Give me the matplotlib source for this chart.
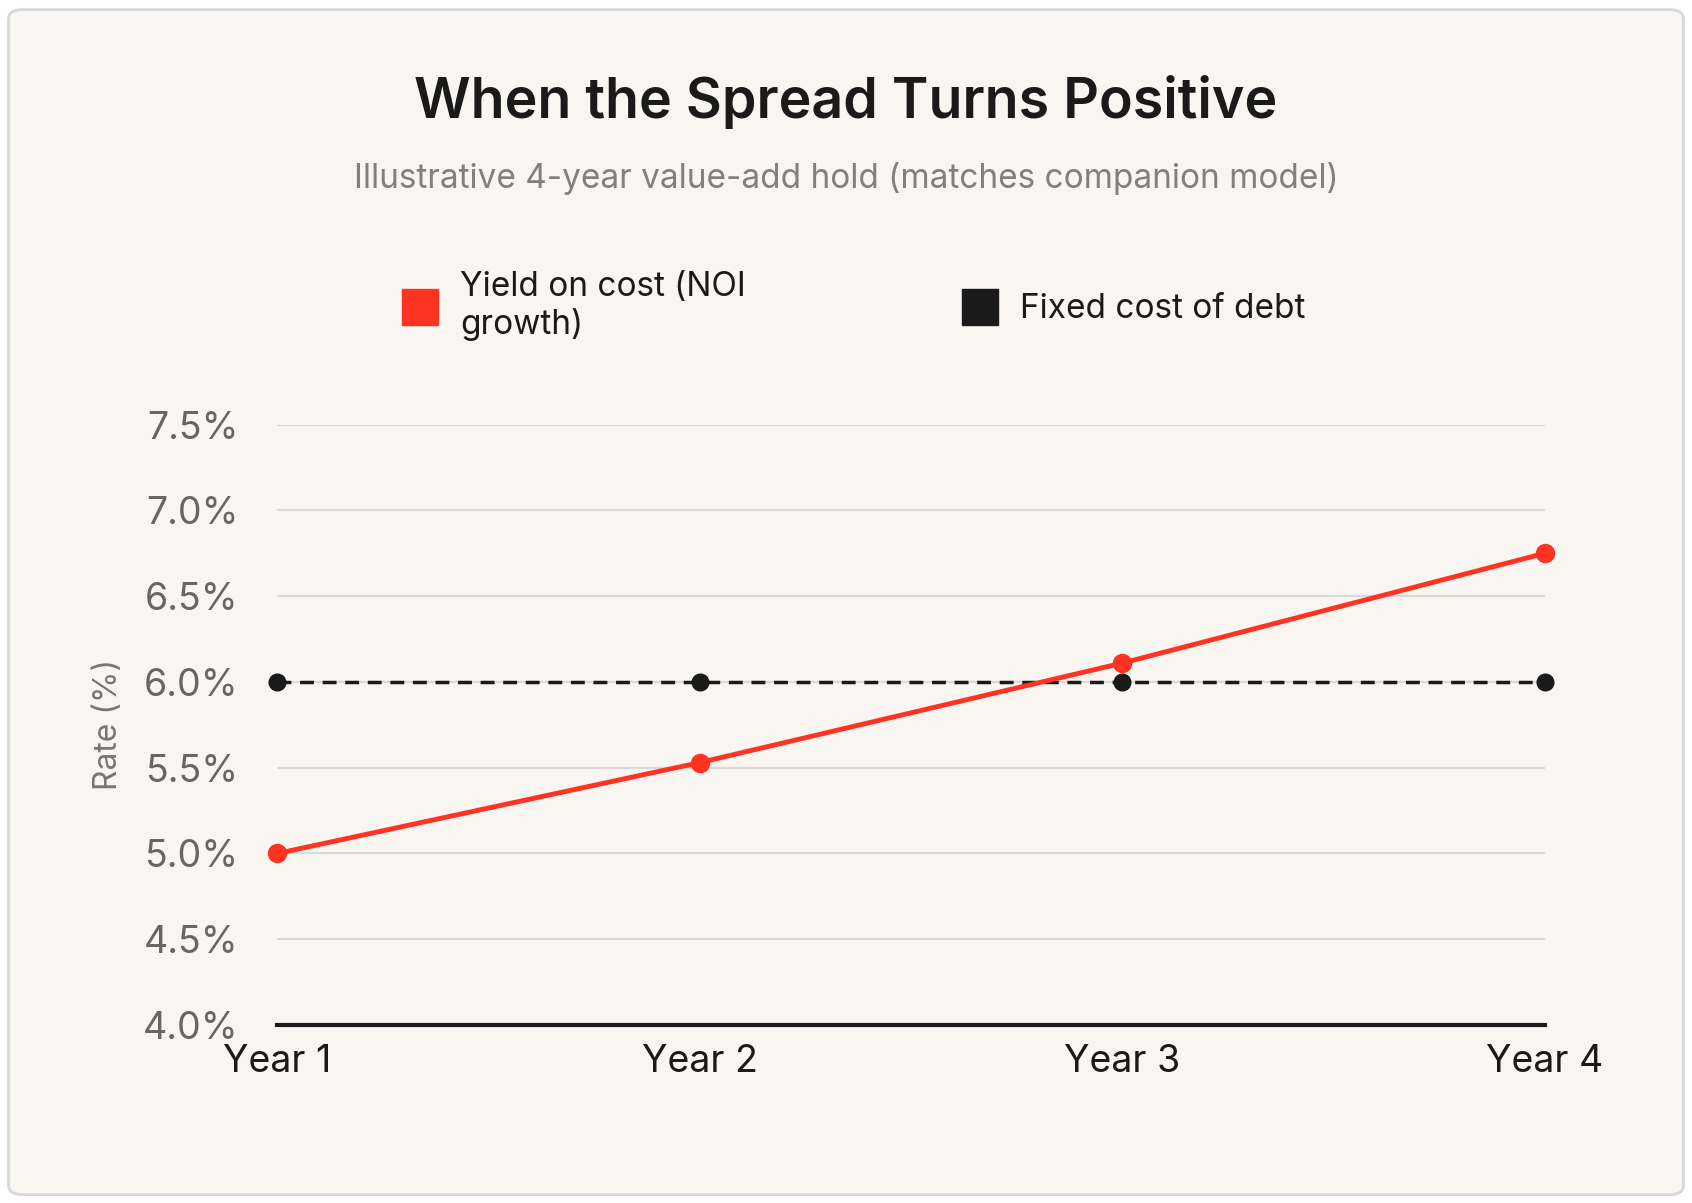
import matplotlib
matplotlib.use("Agg")
import matplotlib.pyplot as plt
from matplotlib.patches import FancyBboxPatch
from matplotlib.lines import Line2D

years = ["Year 1", "Year 2", "Year 3", "Year 4"]
yield_on_cost = [5.0, 5.53, 6.11, 6.75]
cost_of_debt = [6.0, 6.0, 6.0, 6.0]
yticks = [4.0, 4.5, 5.0, 5.5, 6.0, 6.5, 7.0, 7.5]

plt.rcParams['font.family'] = ['Inter', 'DejaVu Sans']
bg = '#f9f6f1'
fig = plt.figure(figsize=(16.92, 12.03), dpi=100)
fig.patch.set_facecolor('white')
fig.patches.append(FancyBboxPatch((0.005, 0.007), 0.99, 0.985, boxstyle="round,pad=0,rounding_size=0.008",
                                  transform=fig.transFigure, facecolor=bg, edgecolor='#d8d8d8', lw=2, zorder=-10))
ax = fig.add_axes([0.164, 0.148, 0.749, 0.499])
ax.set_facecolor(bg)
ax.patch.set_alpha(0)
x = range(len(years))
ax.plot(x, cost_of_debt, color='#1a1a1a', ls=(0, (4, 2.5)), lw=2.5, marker='o', ms=12, clip_on=False, zorder=3)
ax.plot(x, yield_on_cost, color='#ff3322', lw=3.5, marker='o', ms=13, clip_on=False, zorder=4)
ax.set_xlim(0, 3)
ax.set_ylim(4.0, 7.5)
ax.set_yticks(yticks)
ax.set_yticklabels([f"{v:.1f}%" for v in yticks], fontsize=27, color='#666666')
ax.set_xticks(list(x))
ax.set_xticklabels(years, fontsize=27, color='#1a1a1a')
ax.grid(axis='y', color='#d9d9d9', lw=1.5)
ax.set_axisbelow(True)
for s in ['top', 'right', 'left']:
    ax.spines[s].set_visible(False)
ax.spines['bottom'].set_linewidth(3)
ax.spines['bottom'].set_color('#1a1a1a')
ax.tick_params(length=0, pad=14)
ax.tick_params(axis='y', pad=28)
ax.set_ylabel("Rate (%)", fontsize=23, color='#777777', labelpad=14)

fig.text(0.5, 0.915, "When the Spread Turns Positive", ha='center', va='center', fontsize=40, weight='semibold', color='#1a1a1a')
fig.text(0.5, 0.852, "Illustrative 4-year value-add hold (matches companion model)", ha='center', va='center', fontsize=24, color='#808080')

h1 = Line2D([], [], marker='s', ls='none', color='#ff3322', ms=26)
h2 = Line2D([], [], marker='s', ls='none', color='#1a1a1a', ms=26)
fig.legend([h1, h2], ["Yield on cost (NOI\ngrowth)", "Fixed cost of debt"], loc='upper center',
           bbox_to_anchor=(0.5, 0.80), ncol=2, frameon=False, fontsize=24, columnspacing=6,
           handletextpad=0.2, labelcolor='#1a1a1a')
fig.savefig("out.png", dpi=100, facecolor=fig.get_facecolor())
